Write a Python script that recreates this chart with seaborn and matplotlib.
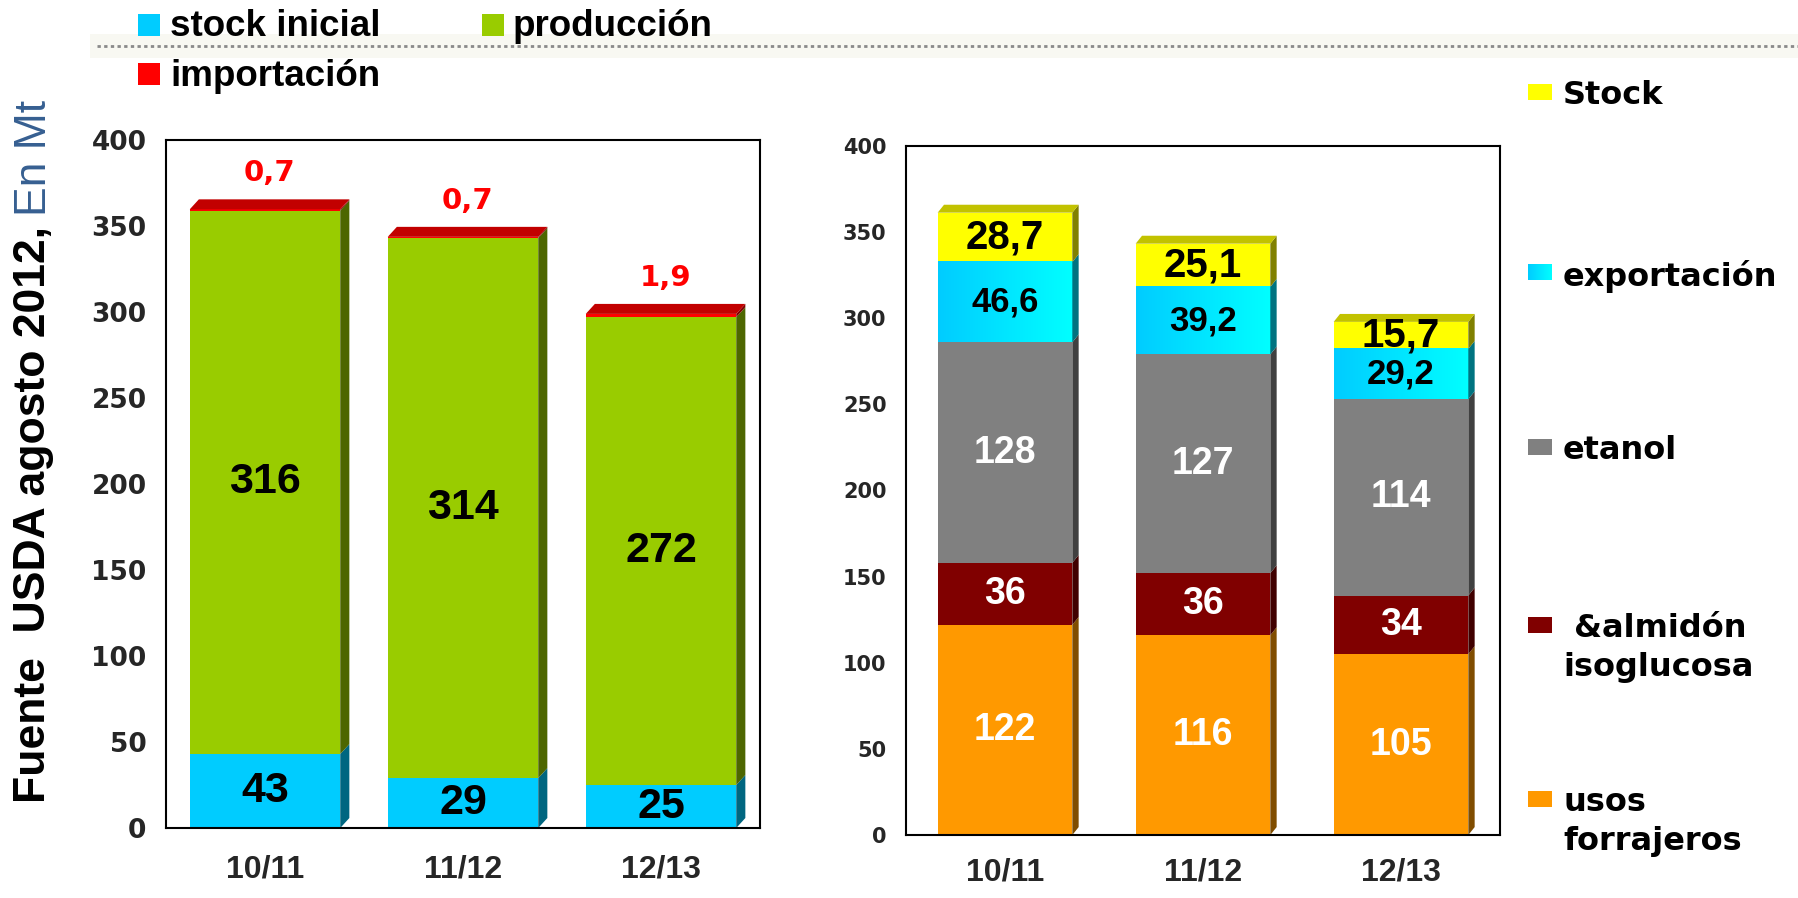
import numpy as np
import pandas as pd
import seaborn as sns
import matplotlib
matplotlib.use("Agg")
import matplotlib.pyplot as plt
from matplotlib.patches import Polygon, Rectangle
from matplotlib.lines import Line2D
from matplotlib.colors import LinearSegmentedColormap, to_rgb

# ---------------- data ----------------
campanas = ["10/11", "11/12", "12/13"]

# left chart (oferta)
stock_inicial = [43, 29, 25]
produccion = [316, 314, 272]
importacion = [0.7, 0.7, 1.9]

# right chart (demanda)
usos_forrajeros = [122, 116, 105]
almidon_isoglucosa = [36, 36, 34]
etanol = [128, 127, 114]
exportacion = [46.6, 39.2, 29.2]
stock_final = [28.7, 25.1, 15.7]

left_names = ["stock inicial", "producción", "importación"]
right_names = ["usos\nforrajeros", " &almidón\nisoglucosa", "etanol", "exportación", "Stock"]

left_colors = ["#00CCFF", "#99CC00", "#FF0000"]
right_colors = ["#FF9900", "#800000", "#808080", "#00E5FF", "#FFFF00"]

y_ticks = [0, 50, 100, 150, 200, 250, 300, 350, 400]

# ---------------- figure ----------------
sns.set_theme(style="white")
plt.rcParams["font.family"] = ["Liberation Sans", "DejaVu Sans"]

W, H = 1798, 898
fig = plt.figure(figsize=(W / 100, H / 100), dpi=100)
fig.patch.set_facecolor("white")


def fx(x):
    return x / W


def fy(y):
    return 1 - y / H


ax1 = fig.add_axes([fx(166), fy(828), 594 / W, 688 / H])
ax2 = fig.add_axes([fx(906), fy(835), 594 / W, 689 / H])


def fmt(v):
    if float(v).is_integer():
        return str(int(v))
    return ("%.1f" % v).replace(".", ",")


def shade(c, f):
    r, g, b = to_rgb(c)
    return (r * f, g * f, b * f)


def stacked(ax, series, colors, width, dx, dy):
    n = len(series)
    bottoms, tops = [], []
    cum = np.zeros(len(campanas))
    for s in series:
        bottoms.append(cum.copy())
        cum = cum + np.array(s, dtype=float)
        tops.append(cum.copy())
    patches = {}
    for i in reversed(range(n)):
        d = pd.DataFrame({"campaña": campanas, "valor": tops[i]})
        before = len(ax.patches)
        sns.barplot(data=d, x="campaña", y="valor", order=campanas, color=colors[i],
                    saturation=1, width=width, errorbar=None, linewidth=0, ax=ax, zorder=2)
        patches[i] = ax.patches[before:]
    # 3D side / top faces derived from the drawn bars
    for i in range(n):
        for j, p in enumerate(patches[i]):
            x0 = p.get_x()
            x1 = x0 + p.get_width()
            y0, y1 = bottoms[i][j], tops[i][j]
            side = Polygon([(x1, y0), (x1 + dx, y0 + dy), (x1 + dx, y1 + dy), (x1, y1)],
                           closed=True, facecolor=shade(colors[i], 0.5), edgecolor="none", zorder=2.2)
            ax.add_patch(side)
            if i == n - 1:
                top = Polygon([(x0, y1), (x0 + dx, y1 + dy), (x1 + dx, y1 + dy), (x1, y1)],
                              closed=True, facecolor=shade(colors[i], 0.76), edgecolor="none", zorder=2.2)
                ax.add_patch(top)
    return patches, bottoms, tops


def style_axes(ax, ytick_size, xpad, ypad):
    ax.set_xlim(-0.5, 2.5)
    ax.set_ylim(0, 400)
    ax.set_yticks(y_ticks)
    ax.set_yticklabels([str(t) for t in y_ticks], fontfamily="DejaVu Sans",
                       fontweight="heavy", fontsize=ytick_size)
    ax.set_xticks(range(len(campanas)))
    ax.set_xticklabels(campanas, fontfamily="Liberation Sans", fontweight="bold", fontsize=23)
    ax.set_xticks([-0.5, 0.5, 1.5, 2.5], minor=True)
    ax.tick_params(axis="x", which="major", length=0, pad=xpad)
    ax.tick_params(axis="x", which="minor", length=9, width=1.5, direction="out", color="black")
    ax.tick_params(axis="y", length=0, pad=ypad)
    ax.set_xlabel("")
    ax.set_ylabel("")
    for sp in ax.spines.values():
        sp.set_visible(True)
        sp.set_color("black")
        sp.set_linewidth(1.5)
    ax.grid(False)
    ax.set_facecolor("white")


# ---------------- left chart ----------------
lp, lb, lt = stacked(ax1, [stock_inicial, produccion, importacion], left_colors,
                     width=0.76, dx=0.046, dy=5.8)
for i, series in enumerate([stock_inicial, produccion]):
    for j, v in enumerate(series):
        cx = lp[i][j].get_x() + lp[i][j].get_width() / 2
        ax1.text(cx, (lb[i][j] + lt[i][j]) / 2, fmt(v), ha="center", va="center",
                 fontfamily="Liberation Sans", fontweight="bold", fontsize=31,
                 color="black", zorder=5)
for j, v in enumerate(importacion):
    cx = lp[2][j].get_x() + lp[2][j].get_width() / 2 + 0.023
    ax1.text(cx, lt[2][j] + 5.8 + 7, fmt(v), ha="center", va="bottom",
             fontfamily="DejaVu Sans", fontweight="bold", fontsize=21,
             color="#FF0000", zorder=5)
style_axes(ax1, 19, 19, 14)

# ---------------- right chart ----------------
right_series = [usos_forrajeros, almidon_isoglucosa, etanol, exportacion, stock_final]
rp, rb, rt = stacked(ax2, right_series, right_colors, width=0.68, dx=0.032, dy=4.6)

# gradient on the export segment
grad_cmap = LinearSegmentedColormap.from_list("expo", ["#00CCFF", "#00FFFF"])
grad = np.linspace(0, 1, 256).reshape(1, -1)
for j, p in enumerate(rp[3]):
    x0 = p.get_x()
    x1 = x0 + p.get_width()
    ax2.imshow(grad, extent=[x0, x1, rb[3][j], rt[3][j]], aspect="auto",
               cmap=grad_cmap, zorder=2.1, interpolation="bilinear")

label_styles = {
    0: dict(color="white", fontsize=27),
    1: dict(color="white", fontsize=27),
    2: dict(color="white", fontsize=27),
    3: dict(color="black", fontsize=25),
    4: dict(color="black", fontsize=29),
}
for i, series in enumerate(right_series):
    for j, v in enumerate(series):
        cx = rp[i][j].get_x() + rp[i][j].get_width() / 2
        ax2.text(cx, (rb[i][j] + rt[i][j]) / 2, fmt(v), ha="center", va="center",
                 fontfamily="Liberation Sans", fontweight="bold", zorder=5,
                 **label_styles[i])
style_axes(ax2, 15, 16, 14)

# ---------------- decorations ----------------
# faint band + dotted rule across the top
fig.patches.append(Rectangle((fx(90), fy(58)), 1 - fx(90), 24 / H, transform=fig.transFigure,
                             facecolor="#F8F8F2", edgecolor="none", zorder=0))
fig.add_artist(Line2D([fx(97), 1.0], [fy(46), fy(46)], transform=fig.transFigure,
                      color="#8A8A8A", linewidth=2, linestyle=(0, (1.2, 1.2)), zorder=1))

# top legend (left chart)
top_leg = [(138, 14, 170, 27), (482, 14, 513, 27), (138, 63, 170, 76)]
for (mx, my, tx, ty), name, col in zip(top_leg, left_names, left_colors):
    fig.patches.append(Rectangle((fx(mx), fy(my + 22)), 22 / W, 22 / H,
                                 transform=fig.transFigure, facecolor=col,
                                 edgecolor="none", zorder=3))
    fig.text(fx(tx), fy(ty), name, ha="left", va="center", fontfamily="Liberation Sans",
             fontweight="bold", fontsize=26.5, color="black")

# right legend
right_leg_y = [799, 625, 447, 272, 92]
for i, (name, col, yy) in enumerate(zip(right_names, right_colors, right_leg_y)):
    if i == 3:
        lax = fig.add_axes([fx(1528), fy(yy + 8), 24 / W, 16 / H])
        lax.imshow(grad, aspect="auto", cmap=grad_cmap, interpolation="bilinear")
        lax.set_axis_off()
    else:
        fig.patches.append(Rectangle((fx(1528), fy(yy + 8)), 24 / W, 16 / H,
                                     transform=fig.transFigure, facecolor=col,
                                     edgecolor="none", zorder=3))
    fig.text(fx(1563), fy(yy - 12), name, ha="left", va="top", fontfamily="DejaVu Sans",
             fontweight="bold", fontsize=23, color="black", linespacing=1.35)

# rotated y label with two colours
t1 = fig.text(fx(34), fy(803), "Fuente  USDA agosto 2012,", rotation=90,
              rotation_mode="anchor", ha="left", va="center",
              fontfamily="Liberation Sans", fontweight="bold", fontsize=32, color="black")
fig.canvas.draw()
bb = t1.get_window_extent(renderer=fig.canvas.get_renderer())
top_px = H - bb.y1  # pixels from top
fig.text(fx(34), fy(top_px - 10), "En Mt", rotation=90, rotation_mode="anchor",
         ha="left", va="center", fontfamily="Liberation Sans", fontsize=32,
         color="#365F91")

fig.savefig("out.png", dpi=100, facecolor="white")
